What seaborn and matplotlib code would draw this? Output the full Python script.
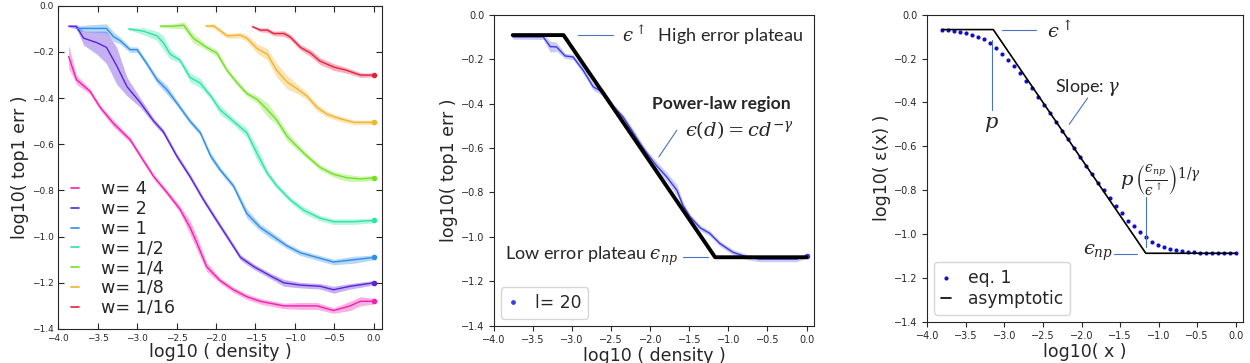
import matplotlib
matplotlib.use('Agg')

import matplotlib.pyplot as plt
import numpy as np
import seaborn as sns

sns.set_style("ticks")

# ---- left panel: error vs density for several widths
labels_w = ["w= 4", "w= 2", "w= 1", "w= 1/2", "w= 1/4", "w= 1/8", "w= 1/16"]
colors_w = ["#f41fae", "#5a22dc", "#2f8ee8", "#2de3a6", "#74e025", "#f2b42c", "#e6203f"]

x_w4 = [-3.87, -3.77, -3.6, -3.47, -3.3, -3.09, -2.96, -2.79, -2.62, -2.46, -2.33, -2.24,
        -2.12, -1.95, -1.78, -1.61, -1.44, -1.14, -0.93, -0.72, -0.51, -0.3, -0.17, 0.0]
y_w4 = [-0.22, -0.32, -0.37, -0.44, -0.51, -0.58, -0.65, -0.74, -0.81, -0.88, -0.96, -1.03,
        -1.13, -1.19, -1.23, -1.26, -1.28, -1.30, -1.30, -1.30, -1.32, -1.30, -1.28, -1.28]
sd_w4 = [0.05, 0.02, 0.012, 0.012, 0.015, 0.012, 0.012, 0.012, 0.012, 0.015, 0.03, 0.03,
         0.02, 0.012, 0.012, 0.012, 0.012, 0.012, 0.015, 0.015, 0.012, 0.02, 0.02, 0.012]

x_w2 = [-3.87, -3.77, -3.68, -3.51, -3.39, -3.26, -3.13, -2.96, -2.79, -2.67, -2.5, -2.33,
        -2.16, -2.03, -1.86, -1.69, -1.52, -1.31, -1.14, -0.93, -0.68, -0.51, -0.3, 0.0]
y_w2 = [-0.088, -0.09, -0.14, -0.16, -0.18, -0.26, -0.35, -0.42, -0.50, -0.545, -0.65, -0.74,
        -0.84, -0.91, -1.0, -1.09, -1.13, -1.17, -1.20, -1.21, -1.215, -1.23, -1.215, -1.20]
sd_w2 = [0.005, 0.01, 0.03, 0.05, 0.07, 0.08, 0.04, 0.02, 0.012, 0.012, 0.012, 0.012,
         0.012, 0.012, 0.012, 0.012, 0.012, 0.012, 0.015, 0.012, 0.012, 0.015, 0.012, 0.01]

x_w1 = [-3.77, -3.64, -3.39, -3.3, -3.22, -3.09, -3.0, -2.88, -2.75, -2.62, -2.5, -2.33,
        -2.2, -2.07, -1.95, -1.78, -1.61, -1.44, -1.27, -1.1, -0.93, -0.72, -0.51, -0.25, 0.0]
y_w1 = [-0.098, -0.098, -0.098, -0.134, -0.15, -0.19, -0.19, -0.25, -0.32, -0.365, -0.42, -0.50,
        -0.55, -0.65, -0.71, -0.78, -0.90, -0.96, -1.0, -1.04, -1.07, -1.09, -1.11, -1.10, -1.09]
sd_w1 = [0.01, 0.015, 0.02, 0.02, 0.015, 0.012, 0.012, 0.012, 0.015, 0.02, 0.012, 0.012,
         0.012, 0.015, 0.012, 0.012, 0.02, 0.015, 0.015, 0.012, 0.012, 0.012, 0.012, 0.015, 0.01]

x_w12 = [-3.11, -2.92, -2.75, -2.67, -2.58, -2.46, -2.33, -2.2, -2.07, -1.95, -1.78, -1.61,
         -1.48, -1.35, -1.23, -1.06, -0.89, -0.68, -0.51, -0.25, 0.0]
y_w12 = [-0.10, -0.11, -0.13, -0.16, -0.21, -0.235, -0.31, -0.335, -0.39, -0.45, -0.50, -0.55,
         -0.64, -0.725, -0.78, -0.84, -0.885, -0.92, -0.935, -0.935, -0.93]
sd_w12 = [0.005, 0.015, 0.02, 0.03, 0.02, 0.012, 0.02, 0.02, 0.012, 0.02, 0.015, 0.02,
          0.03, 0.015, 0.012, 0.012, 0.015, 0.012, 0.012, 0.012, 0.01]

x_w14 = [-2.71, -2.54, -2.41, -2.29, -2.12, -1.99, -1.86, -1.73, -1.61, -1.48, -1.35, -1.23,
         -1.1, -0.97, -0.85, -0.68, -0.51, -0.34, -0.17, 0.0]
y_w14 = [-0.088, -0.088, -0.084, -0.14, -0.18, -0.205, -0.28, -0.335, -0.38, -0.405, -0.45, -0.495,
         -0.565, -0.61, -0.65, -0.70, -0.73, -0.745, -0.75, -0.745]
sd_w14 = [0.005, 0.01, 0.015, 0.02, 0.012, 0.015, 0.012, 0.012, 0.012, 0.015, 0.03, 0.02,
          0.02, 0.015, 0.012, 0.012, 0.012, 0.015, 0.012, 0.01]

x_w18 = [-2.13, -2.03, -1.86, -1.69, -1.61, -1.48, -1.35, -1.23, -1.1, -0.97, -0.85, -0.72,
         -0.59, -0.42, -0.25, -0.13, 0.0]
y_w18 = [-0.087, -0.087, -0.13, -0.127, -0.14, -0.185, -0.21, -0.28, -0.33, -0.36, -0.39, -0.44,
         -0.47, -0.49, -0.505, -0.505, -0.505]
sd_w18 = [0.005, 0.01, 0.01, 0.012, 0.015, 0.02, 0.025, 0.03, 0.03, 0.02, 0.015, 0.015,
          0.012, 0.012, 0.01, 0.01, 0.01]

x_w116 = [-1.54, -1.44, -1.35, -1.27, -1.14, -1.06, -0.93, -0.8, -0.68, -0.51, -0.34, -0.17, 0.0]
y_w116 = [-0.09, -0.105, -0.105, -0.12, -0.12, -0.135, -0.18, -0.205, -0.24, -0.265, -0.28, -0.30, -0.30]
sd_w116 = [0.004, 0.008, 0.01, 0.01, 0.012, 0.012, 0.012, 0.015, 0.015, 0.015, 0.012, 0.01, 0.008]

curves_w = [(x_w4, y_w4, sd_w4), (x_w2, y_w2, sd_w2), (x_w1, y_w1, sd_w1),
            (x_w12, y_w12, sd_w12), (x_w14, y_w14, sd_w14), (x_w18, y_w18, sd_w18),
            (x_w116, y_w116, sd_w116)]

# ---- middle panel: l=20 curve and its fitted asymptote
x_l20 = [-3.76, -3.37, -3.28, -3.2, -3.09, -2.99, -2.86, -2.73, -2.6, -2.47, -2.35, -2.22,
         -2.13, -2.05, -1.92, -1.79, -1.66, -1.58, -1.49, -1.36, -1.24, -1.11, -0.94, -0.77,
         -0.6, -0.34, -0.13, 0.0]
y_l20 = [-0.10, -0.10, -0.144, -0.145, -0.186, -0.19, -0.25, -0.325, -0.35, -0.414, -0.46, -0.53,
         -0.58, -0.62, -0.68, -0.73, -0.79, -0.86, -0.91, -0.96, -0.984, -1.03, -1.07, -1.09,
         -1.10, -1.10, -1.10, -1.086]
sd_l20 = [0.01, 0.012, 0.025, 0.02, 0.012, 0.012, 0.015, 0.015, 0.015, 0.012, 0.012, 0.015,
          0.015, 0.012, 0.02, 0.02, 0.025, 0.015, 0.012, 0.012, 0.012, 0.012, 0.012, 0.012,
          0.012, 0.012, 0.012, 0.01]
x_fit = [-3.76, -3.11, -1.17, 0.0]
y_fit = [-0.092, -0.092, -1.092, -1.092]

# ---- right panel: eq. 1 and its asymptotic form
x_eq = [-3.81, -3.73, -3.65, -3.58, -3.50, -3.42, -3.34, -3.27, -3.19, -3.11,
        -3.03, -2.95, -2.88, -2.80, -2.72, -2.64, -2.56, -2.49, -2.41, -2.33,
        -2.25, -2.18, -2.10, -2.02, -1.94, -1.86, -1.79, -1.71, -1.63, -1.55,
        -1.48, -1.40, -1.32, -1.24, -1.16, -1.09, -1.01, -0.93, -0.85, -0.78,
        -0.70, -0.62, -0.54, -0.46, -0.39, -0.31, -0.23, -0.15, -0.07, 0.00]
y_eq = [-0.068, -0.071, -0.074, -0.079, -0.084, -0.091, -0.100, -0.111, -0.131, -0.150,
        -0.181, -0.207, -0.234, -0.264, -0.302, -0.336, -0.374, -0.412, -0.450, -0.489,
        -0.529, -0.568, -0.606, -0.647, -0.688, -0.726, -0.766, -0.799, -0.837, -0.872,
        -0.906, -0.939, -0.964, -0.989, -1.012, -1.035, -1.050, -1.059, -1.067, -1.073,
        -1.078, -1.081, -1.084, -1.085, -1.087, -1.088, -1.088, -1.089, -1.089, -1.089]
x_asym = [-3.81, -3.145, -1.166, 0.0]
y_asym = [-0.068, -0.068, -1.088, -1.088]

ann_blue = "#4a72c0"
ann_font = "Lato"
math_ff = "dejavuserif"
eps = "\u03f5"  # lunate epsilon as in the reference

fig = plt.figure(figsize=(12.5, 3.63), dpi=100)
ax1 = fig.add_axes([0.0467, 0.0937, 0.2586, 0.8903])
ax2 = fig.add_axes([0.3952, 0.1028, 0.2563, 0.8568])
ax3 = fig.add_axes([0.7419, 0.1138, 0.2522, 0.8458])

# left
for (xs, ys, sds), lab, col in zip(curves_w, labels_w, colors_w):
    xs, ys, sds = np.array(xs), np.array(ys), np.array(sds)
    ax1.fill_between(xs, ys - sds, ys + sds, color=col, alpha=0.35, lw=0)
    sns.lineplot(x=xs, y=ys, color=col, lw=1.0, ax=ax1, legend=False)
    ax1.plot(xs[-1], ys[-1], 'o', color=col, ms=3)
    ax1.plot([], [], '-', color=col, lw=1.2, label=lab)
ax1.set_xlim(-4, 0.1)
ax1.set_ylim(-1.4, 0)
ax1.set_xticks(np.arange(-4, 0.01, 0.5))
ax1.set_yticks(np.arange(-1.4, 0.01, 0.2))
ax1.tick_params(direction='in', top=True, right=True, labelsize=6.5, length=4)
ax1.set_xlabel("log10 ( density )", fontsize=12.5, labelpad=0)
ax1.set_ylabel("log10( top1 err )", fontsize=12.5, labelpad=2)
ax1.legend(loc='lower left', frameon=False, fontsize=12.6, handlelength=0.45,
           handletextpad=1.3, labelspacing=0.1, borderaxespad=0.4, borderpad=0.3)

# middle
xl, yl, sl = np.array(x_l20), np.array(y_l20), np.array(sd_l20)
ax2.fill_between(xl, yl - sl, yl + sl, color="#8c8cf2", alpha=0.45, lw=0)
sns.lineplot(x=xl, y=yl, color="#3a3ae0", lw=1.0, ax=ax2, legend=False)
ax2.plot(xl[-1], yl[-1], 'o', color="#3a3ae0", ms=3, label="l= 20")
sns.lineplot(x=x_fit, y=y_fit, color="black", lw=2.8, ax=ax2, legend=False)
ax2.set_xlim(-4, 0.1)
ax2.set_ylim(-1.4, 0)
ax2.set_xticks(np.arange(-4, 0.01, 0.5))
ax2.set_yticks(np.arange(-1.4, 0.01, 0.2))
ax2.tick_params(labelsize=7, length=3.5)
ax2.set_xlabel("log10 ( density )", fontsize=12.5, labelpad=1)
ax2.set_ylabel("log10( top1 err )", fontsize=12.5, labelpad=2)
ax2.legend(loc='lower left', fontsize=12.3, handlelength=0.6, handletextpad=1.0,
           borderaxespad=0.4, markerscale=0.8)

ax2.plot([-2.93, -2.48], [-0.091, -0.091], color=ann_blue, lw=0.8)
ax2.text(-2.36, -0.09, "$" + eps + r"^{\uparrow}$  High error plateau", fontsize=13,
         family=ann_font, math_fontfamily=math_ff, va='center')
ax2.text(-1.98, -0.40, "Power-law region", fontsize=12.6, family=ann_font,
         fontweight='bold', va='center')
ax2.text(-1.56, -0.52, "$" + eps + r"(d) = cd^{-\gamma}$", fontsize=14,
         math_fontfamily=math_ff, va='center')
ax2.plot([-1.66, -1.89], [-0.52, -0.64], color=ann_blue, lw=0.8)
ax2.text(-3.86, -1.09, "Low error plateau $" + eps + "_{np}$", fontsize=13,
         family=ann_font, math_fontfamily=math_ff, va='center')
ax2.plot([-1.58, -1.26], [-1.09, -1.09], color=ann_blue, lw=0.8)

# right
sns.scatterplot(x=x_eq, y=y_eq, color="#1010cc", s=9, linewidth=0, ax=ax3, label="eq. 1")
sns.lineplot(x=x_asym, y=y_asym, color="black", lw=1.2, ax=ax3, label="asymptotic")
ax3.set_xlim(-4, 0.09)
ax3.set_ylim(-1.4, 0)
ax3.set_xticks(np.arange(-4, 0.01, 0.5))
ax3.set_yticks(np.arange(-1.4, 0.01, 0.2))
ax3.tick_params(labelsize=7, length=3.5)
ax3.set_xlabel("log10( x )", fontsize=12.5, labelpad=1)
ax3.set_ylabel("log10( ε(x) )", fontsize=12.5, labelpad=2)
ax3.legend(loc='lower left', fontsize=12.3, handlelength=0.6, handletextpad=1.0,
           borderaxespad=0.4, labelspacing=0.2)

ax3.plot([-3.03, -2.59], [-0.07, -0.07], color=ann_blue, lw=0.8)
ax3.text(-2.45, -0.075, "$" + eps + r"^{\uparrow}$", fontsize=14, math_fontfamily=math_ff, va='center')
ax3.plot([-3.16, -3.16], [-0.115, -0.435], color=ann_blue, lw=0.8)
ax3.text(-3.17, -0.50, r"$p$", fontsize=15, math_fontfamily=math_ff, va='center', ha='center')
ax3.text(-2.35, -0.33, r"Slope: $\gamma$", fontsize=13, family=ann_font,
         math_fontfamily=math_ff, va='center')
ax3.plot([-1.92, -2.16], [-0.38, -0.50], color=ann_blue, lw=0.8)
ax3.text(-1.50, -0.75,
         r"$p\,\left(\frac{" + eps + "_{np}}{" + eps + r"^{\uparrow}}\right)^{1/\gamma}$",
         fontsize=14, math_fontfamily=math_ff, va='center')
ax3.plot([-1.165, -1.165], [-0.83, -1.06], color=ann_blue, lw=0.8)
ax3.text(-1.98, -1.087, "$" + eps + "_{np}$", fontsize=14, math_fontfamily=math_ff, va='center')
ax3.plot([-1.58, -1.28], [-1.09, -1.09], color=ann_blue, lw=0.8)

fig.savefig("out.png", dpi=100)
